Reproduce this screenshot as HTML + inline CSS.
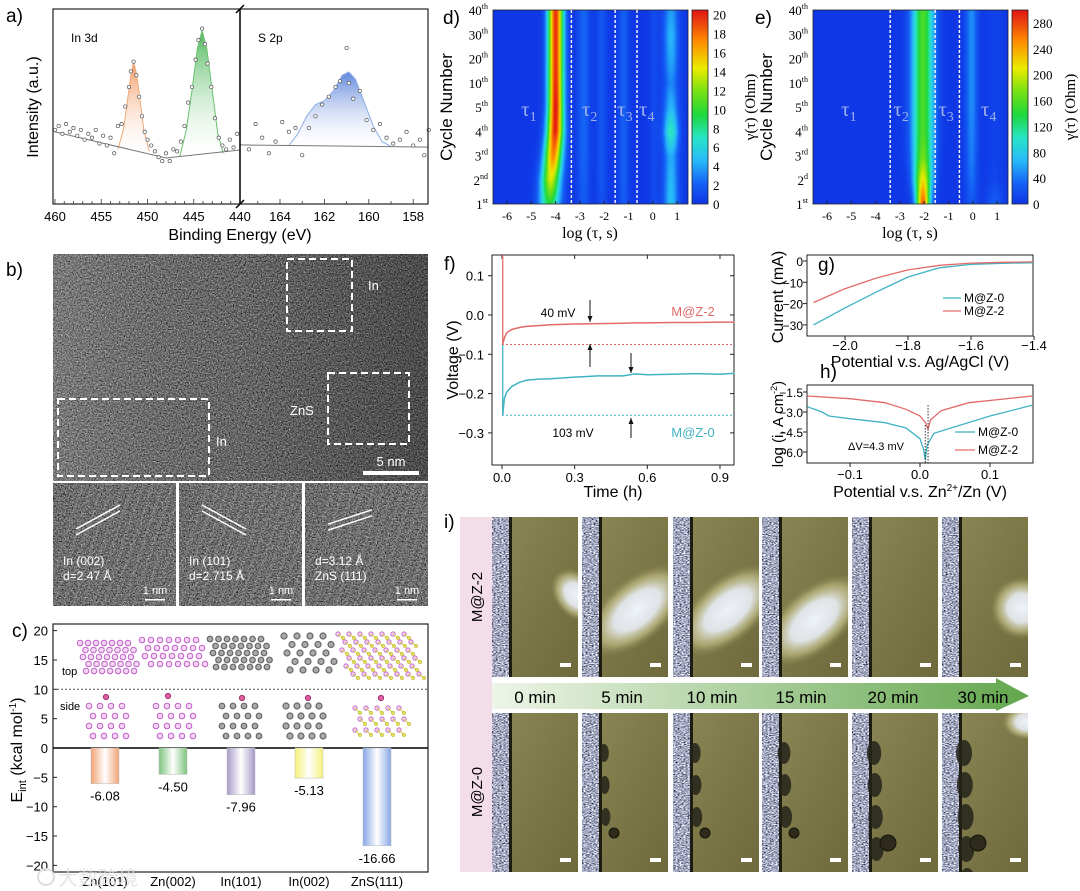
<!DOCTYPE html>
<html><head><meta charset="utf-8">
<style>
body{margin:0;background:#fff;width:1080px;height:891px;overflow:hidden;position:relative;font-family:"Liberation Sans","Noto Sans CJK SC",sans-serif}
canvas{position:absolute}
#fig{position:absolute;left:0;top:0}
</style></head>
<body>
<canvas id="heatD" width="195" height="194" style="left:493px;top:10px"></canvas>
<canvas id="heatE" width="195" height="194" style="left:813px;top:10px"></canvas>
<canvas id="cbarD" width="16" height="194" style="left:692px;top:10px"></canvas>
<canvas id="cbarE" width="16" height="194" style="left:1012px;top:10px"></canvas>
<svg id="fig" width="1080" height="891" xmlns="http://www.w3.org/2000/svg">
<defs>
<filter id="tem" x="0" y="0" width="100%" height="100%" color-interpolation-filters="sRGB">
<feTurbulence type="fractalNoise" baseFrequency="0.75" numOctaves="2" seed="4"/>
<feColorMatrix type="matrix" values="0.33 0.33 0.33 0 0 0.33 0.33 0.33 0 0 0.33 0.33 0.33 0 0 0 0 0 0 1"/>
<feComponentTransfer><feFuncR type="linear" slope="1.8" intercept="-0.47"/><feFuncG type="linear" slope="1.8" intercept="-0.47"/><feFuncB type="linear" slope="1.8" intercept="-0.47"/></feComponentTransfer>
</filter>
<filter id="zinc" x="0" y="0" width="100%" height="100%" color-interpolation-filters="sRGB">
<feTurbulence type="fractalNoise" baseFrequency="0.5 0.9" numOctaves="2" seed="7"/>
<feColorMatrix type="matrix" values="0.33 0.33 0.33 0 0 0.33 0.33 0.33 0 0 0.34 0.34 0.34 0 0 0 0 0 0 1"/>
<feComponentTransfer><feFuncR type="linear" slope="3" intercept="-0.85"/><feFuncG type="linear" slope="3" intercept="-0.83"/><feFuncB type="linear" slope="3" intercept="-0.78"/></feComponentTransfer>
</filter>
<linearGradient id="temShade" x1="0" y1="0" x2="1" y2="0"><stop offset="0" stop-color="#fff" stop-opacity="0.1"/><stop offset="0.5" stop-color="#000" stop-opacity="0.05"/><stop offset="1" stop-color="#000" stop-opacity="0.3"/></linearGradient>
<linearGradient id="gOr" x1="0" y1="0" x2="0" y2="1"><stop offset="0" stop-color="#f09a62"/><stop offset="1" stop-color="#fff" stop-opacity="0.2"/></linearGradient>
<linearGradient id="gGr" x1="0" y1="0" x2="0" y2="1"><stop offset="0" stop-color="#4fb85c"/><stop offset="1" stop-color="#fff" stop-opacity="0.2"/></linearGradient>
<linearGradient id="gBl" x1="0" y1="0" x2="0" y2="1"><stop offset="0" stop-color="#5f86dc"/><stop offset="1" stop-color="#fff" stop-opacity="0.2"/></linearGradient>
<linearGradient id="bar0" x1="0" x2="1"><stop offset="0" stop-color="#f2a374"/><stop offset="0.5" stop-color="#fff"/><stop offset="1" stop-color="#f2a374"/></linearGradient>
<linearGradient id="bar1" x1="0" x2="1"><stop offset="0" stop-color="#7cc47c"/><stop offset="0.5" stop-color="#fff"/><stop offset="1" stop-color="#7cc47c"/></linearGradient>
<linearGradient id="bar2" x1="0" x2="1"><stop offset="0" stop-color="#a79ac6"/><stop offset="0.5" stop-color="#fff"/><stop offset="1" stop-color="#a79ac6"/></linearGradient>
<linearGradient id="bar3" x1="0" x2="1"><stop offset="0" stop-color="#f4f07a"/><stop offset="0.5" stop-color="#fff"/><stop offset="1" stop-color="#f4f07a"/></linearGradient>
<linearGradient id="bar4" x1="0" x2="1"><stop offset="0" stop-color="#86a6e6"/><stop offset="0.5" stop-color="#fff"/><stop offset="1" stop-color="#86a6e6"/></linearGradient>
<linearGradient id="arrowG" x1="0" x2="1"><stop offset="0" stop-color="#eef5e8"/><stop offset="1" stop-color="#62a64c"/></linearGradient>
<linearGradient id="olive" x1="0" y1="0" x2="1" y2="1"><stop offset="0" stop-color="#8c8856"/><stop offset="0.6" stop-color="#7a7546"/><stop offset="1" stop-color="#6f6a3c"/></linearGradient>
<radialGradient id="glow"><stop offset="0" stop-color="#eef2fa"/><stop offset="0.45" stop-color="#dfe3e6"/><stop offset="0.75" stop-color="#c8c48a" stop-opacity="0.6"/><stop offset="1" stop-color="#8a8550" stop-opacity="0"/></radialGradient>
</defs>
</svg>
<script>
const NS='http://www.w3.org/2000/svg';
const svg=document.getElementById('fig');
function el(tag,attrs,parent){const e=document.createElementNS(NS,tag);for(const k in attrs)e.setAttribute(k,attrs[k]);(parent||svg).appendChild(e);return e;}
function tx(str,x,y,attrs,parent){const e=el('text',Object.assign({x:x,y:y},attrs||{}),parent);e.textContent=str;return e;}
function pts(arr){return arr.map(p=>p[0].toFixed(1)+','+p[1].toFixed(1)).join(' ');}

/* ================= Panel a data ================= */
const aOrangeBE=[453.2,452.6,452.2,451.8,451.5,451.2,450.8,450.4,449.8];
const aOrangeI=[28,38,52,66,72.8,67,53,38,27];
const aGreenBE=[446.5,445.8,445.2,444.6,444.1,443.6,443,442.4,441.8];
const aGreenI=[24.5,38,58,80,89,80,58,36,26];
const aBlueBE=[163.6,163.2,162.8,162.4,162.0,161.6,161.2,160.9,160.6,160.2,159.8,159.4,159];
const aBlueI=[30,36,45,51,53,58,66,67.7,64,52,40,32,29.5];
const aBaseLeftBE=[460,448,440];
const aBaseLeftI=[37,23.6,27.7];
const aBaseRightBE=[165.8,157.3];
const aBaseRightI=[30.3,29.2];
const aScatterLeftBE=[460,459.6,459.2,458.8,458.4,458,457.6,457.2,456.8,456.4,456,455.6,455.2,454.8,454.4,454,453.6,453.2,452.8,452.4,452,451.8,451.5,451.2,450.9,450.6,450.3,450,449.6,449.2,448.8,448.4,448,447.6,447.2,446.8,446.4,446,445.6,445.2,444.8,444.5,444.1,443.8,443.5,443.1,442.7,442.3,441.9,441.5,441.1,440.7,440.3];
const aScatterLeftI=[38,40,36,41,37,39,35,38,33,36,34,38,31,35,30,34,26,40,41,50,60,68,73,66,55,45,37,33,30,27,24,22,26,22,28,27,32,40,52,60,74,84,90,82,72,60,44,34,30,28,33,29,36];
const aScatterRightBE=[165.4,165.1,164.8,164.5,164.2,163.9,163.6,163.3,163,162.7,162.4,162.1,161.8,161.5,161.3,161.0,160.9,160.7,160.4,160.1,159.8,159.5,159.2,158.9,158.6,158.3,158,157.7,157.5,157.3];
const aScatterRightI=[28,41,34,26,32,42,37,39,25,39,45,51,55,60,63,80,62,54,58,43,38,41,34,31,33,37,30,33,25,38];
const aTicksLeft=[460,455,450,445,440];
const aTicksRight=[164,162,160,158];

const aX1=v=>55+(460-v)*9.25;
const aX2=v=>280+(164-v)*22.2;
const aY=I=>204-I*1.95;
function interp(xs,ys,x){for(let i=0;i<xs.length-1;i++){const a=xs[i],b=xs[i+1];if((x<=a&&x>=b)||(x>=a&&x<=b)){const t=(x-a)/(b-a);return ys[i]+t*(ys[i+1]-ys[i]);}}return ys[ys.length-1];}

(function(){
  const g=el('g',{});
  
  
  const lab=tx('a)',6,22,{'font-size':19});
  
  function peak(bes,is,xf,base,grad,name){
    const top=bes.map((b,i)=>[xf(b),aY(is[i])]);
    const bot=bes.slice().reverse().map(b=>[xf(b),aY(base(b))]);
    const p=el('polygon',{points:pts(top.concat(bot)),fill:'url(#'+grad+')',stroke:'none'},g);
    
    const l=el('polyline',{points:pts(top),fill:'none',stroke:grad==='gOr'?'#f0a878':grad==='gGr'?'#6cc070':'#90aee6','stroke-width':1},g);
    
  }
  const baseL=b=>interp(aBaseLeftBE,aBaseLeftI,b);
  const baseR=b=>interp(aBaseRightBE,aBaseRightI,b);
  peak(aOrangeBE,aOrangeI,aX1,baseL,'gOr','in3d-5-2-peak');
  peak(aGreenBE,aGreenI,aX1,baseL,'gGr','in3d-3-2-peak');
  peak(aBlueBE,aBlueI,aX2,baseR,'gBl','s2p-peak');
  const bl=el('polyline',{points:pts(aBaseLeftBE.map((b,i)=>[aX1(b),aY(aBaseLeftI[i])])),fill:'none',stroke:'#777','stroke-width':1},g);
  
  const br=el('polyline',{points:pts(aBaseRightBE.map((b,i)=>[aX2(b),aY(aBaseRightI[i])])),fill:'none',stroke:'#777','stroke-width':1},g);
  
  aScatterLeftBE.forEach((b,i)=>{
    const c=el('circle',{cx:aX1(b),cy:aY(aScatterLeftI[i]),r:1.7,fill:'#fff',stroke:'#555','stroke-width':0.7},g);
    
  });
  aScatterRightBE.forEach((b,i)=>{
    const c=el('circle',{cx:aX2(b),cy:aY(aScatterRightI[i]),r:1.7,fill:'#fff',stroke:'#555','stroke-width':0.7},g);
    
  });
  const fr=el('rect',{x:53,y:9,width:375,height:195,fill:'none',stroke:'#222','stroke-width':1.2},g);
  
  const br2=el('line',{x1:240,y1:9,x2:240,y2:204,stroke:'#000','stroke-width':1.5},g);
  
  el('line',{x1:236,y1:13,x2:244,y2:5,stroke:'#000','stroke-width':1.5},g);
  el('line',{x1:236,y1:208,x2:244,y2:200,stroke:'#000','stroke-width':1.5},g);
  for(let v=460;v>440;v--){el('line',{x1:aX1(v),y1:204,x2:aX1(v),y2:v%5===0?199:201,stroke:'#333','stroke-width':0.8},g);}
  for(let v=165;v>=158;v--){el('line',{x1:aX2(v),y1:204,x2:aX2(v),y2:v%2===0?199:201,stroke:'#333','stroke-width':0.8},g);}
  aTicksLeft.forEach(v=>{const t=tx(String(v),aX1(v),221,{'font-size':13,'text-anchor':'middle'},g);});
  aTicksRight.forEach(v=>{const t=tx(String(v),aX2(v),221,{'font-size':13,'text-anchor':'middle'},g);});
  const xt=tx('Binding Energy (eV)',240,240,{'font-size':16,'text-anchor':'middle'},g);
  
  const yt=tx('Intensity (a.u.)',0,0,{'font-size':16,'text-anchor':'middle',transform:'translate(38,107) rotate(-90)'},g);
  
  const t1=tx('In 3d',71,42,{'font-size':12},g);
  
  const t2=tx('S 2p',258,42,{'font-size':12},g);
  
})();

/* ================= Panel b (TEM) ================= */
(function(){
  const g=el('g',{});
  
  const lab=tx('b)',6,276,{'font-size':19});
  
  const im=el('rect',{x:53,y:254,width:375,height:227,filter:'url(#tem)'},g);
  
  el('rect',{x:53,y:254,width:375,height:227,fill:'url(#temShade)'},g);
  const boxes=[[287,259,65,72,'in-region-box-top'],[58,399,151,77,'in-region-box-left'],[328,373,81,71,'zns-region-box']];
  boxes.forEach(b=>{const r=el('rect',{x:b[0],y:b[1],width:b[2],height:b[3],fill:'none',stroke:'#fff','stroke-width':2,'stroke-dasharray':'7,4'},g);});
  tx('In',368,290,{'font-size':13,fill:'#fff'},g);
  tx('In',216,446,{'font-size':13,fill:'#fff'},g);
  tx('ZnS',290,415,{'font-size':13,fill:'#fff'},g);
  el('rect',{x:363,y:471,width:56,height:4,fill:'#fff'},g);
  tx('5 nm',391,466,{'font-size':13,fill:'#fff','text-anchor':'middle'},g);
  const tiles=[[53,'In (002)','d=2.47 Å',-1],[179,'In (101)','d=2.715 Å',1],[305,'d=3.12 Å','ZnS (111)',-0.6]];
  tiles.forEach((t,i)=>{
    const x=t[0];
    const r=el('rect',{x:x,y:483,width:123,height:123,filter:'url(#tem)'},g);
    
    for(let k=0;k<16;k++){el('line',{x1:x-10+k*10,y1:606,x2:x+30+k*10,y2:483,stroke:'#fff','stroke-opacity':0.08,'stroke-width':3},g);}
    const cx=x+45, cy=520, s=t[3];
    el('line',{x1:cx-22,y1:cy-12*s,x2:cx+22,y2:cy+12*s,stroke:'#fff','stroke-width':1.5,transform:'translate(0,-3)'},g);
    el('line',{x1:cx-22,y1:cy-12*s,x2:cx+22,y2:cy+12*s,stroke:'#fff','stroke-width':1.5,transform:'translate(0,3)'},g);
    tx(t[1],x+10,565,{'font-size':12,fill:'#fff'},g);
    tx(t[2],x+10,580,{'font-size':12,fill:'#fff'},g);
    el('rect',{x:x+92,y:599,width:20,height:1.5,fill:'#fff'},g);
    tx('1 nm',x+102,594,{'font-size':11,fill:'#fff','text-anchor':'middle'},g);
  });
  el('line',{x1:177,y1:483,x2:177,y2:606,stroke:'#fff','stroke-width':2},g);
  el('line',{x1:303,y1:483,x2:303,y2:606,stroke:'#fff','stroke-width':2},g);
  el('line',{x1:53,y1:482,x2:428,y2:482,stroke:'#fff','stroke-width':2},g);
})();

/* ================= Panel c ================= */
const cCategories=['Zn(101)','Zn(002)','In(101)','In(002)','ZnS(111)'];
const cValues=[-6.08,-4.50,-7.96,-5.13,-16.66];
const cValueLabels=['-6.08','-4.50','-7.96','-5.13','-16.66'];
const cTicks=[20,15,10,5,0,-5,-10,-15,-20];
const cX=i=>105+i*68;
const cY=v=>748-v*5.87;
(function(){
  const g=el('g',{});
  
  tx('c)',12,637,{'font-size':19});
  const fr=el('rect',{x:53,y:624,width:375,height:248,fill:'none',stroke:'#222','stroke-width':1.2},g);
  
  cTicks.forEach(v=>{
    el('line',{x1:53,y1:cY(v),x2:57,y2:cY(v),stroke:'#222'},g);
    const t=tx(String(v).replace('-','−'),48,cY(v)+5,{'font-size':13,'text-anchor':'end'},g);
    
  });
  const dl=el('line',{x1:53,y1:cY(10),x2:428,y2:cY(10),stroke:'#555','stroke-dasharray':'2,2'},g);
  
  const zl=el('line',{x1:53,y1:cY(0),x2:428,y2:cY(0),stroke:'#000','stroke-width':1.6},g);
  
  tx('top',62,675,{'font-size':11},g);
  tx('side',60,710,{'font-size':11},g);
  cValues.forEach((v,i)=>{
    const b=el('rect',{x:cX(i)-14,y:cY(0),width:28,height:cY(v)-cY(0),fill:'url(#bar'+i+')',stroke:'#bbb','stroke-width':0.5},g);
    
    const t=tx(cValueLabels[i],cX(i),cY(v)+17,{'font-size':13,'text-anchor':'middle'},g);
    
    const c=tx(cCategories[i],cX(i),886,{'font-size':13,'text-anchor':'middle'},g);
    
  });
  const yt=tx('',0,0,{'font-size':16,'text-anchor':'middle',transform:'translate(22,750) rotate(-90)'},g);
  
  yt.innerHTML='E<tspan font-size="11" dy="4">int</tspan><tspan dy="-4"> (kcal mol</tspan><tspan font-size="10" dy="-6">-1</tspan><tspan dy="6">)</tspan>';
  const pink={fill:'#f3d6f3',stroke:'#c060c8','stroke-width':1};
  const gray={fill:'#aaa',stroke:'#666','stroke-width':1.2};
  function lattice(x0,y0,cols,rows,dx,dy,shift,style,r){
    for(let j=0;j<rows;j++)for(let i=0;i<cols;i++){el('circle',Object.assign({cx:x0+i*dx+(j%2)*shift+j*1.5,cy:y0+j*dy,r:r||2.8},style),g);}
  }
  lattice(80,643,7,5,8,7,4,pink);
  lattice(142,640,7,4,9,8,4.5,pink);
  lattice(210,639,7,5,8.5,7,4,gray);
  lattice(284,636,4,5,13,8.5,6.5,gray,3);
  for(let j=0;j<6;j++)for(let i=0;i<7;i++){
    const x=338+i*11+(j%2)*5+j*2,y=634+j*8;
    el('circle',{cx:x,cy:y,r:2.2,fill:'#f0d0f0',stroke:'#c060c8','stroke-width':0.8},g);
    el('line',{x1:x,y1:y,x2:x+5,y2:y+4,stroke:'#d4d040','stroke-width':1},g);
    el('circle',{cx:x+5,cy:y+4,r:1.6,fill:'#e8e060',stroke:'#b8b020','stroke-width':0.6},g);
  }
  function side(x0,style,r){
    for(let j=0;j<4;j++)for(let i=0;i<4;i++){el('circle',Object.assign({cx:x0+i*11+(j%2)*4,cy:706+j*10,r:r||2.8},style),g);}
  }
  side(89,pink);side(156,pink);side(222,gray);side(286,gray,3);
  [[106,697],[168,696],[242,698],[308,698],[381,698]].forEach(p=>el('circle',{cx:p[0],cy:p[1],r:2.6,fill:'#e060a0',stroke:'#a03070'},g));
  for(let j=0;j<3;j++)for(let i=0;i<5;i++){
    const x=355+i*11+(j%2)*5,y=708+j*11;
    el('circle',{cx:x,cy:y,r:2.2,fill:'#f0d0f0',stroke:'#c060c8','stroke-width':0.8},g);
    el('line',{x1:x,y1:y,x2:x+5,y2:y+5,stroke:'#d4d040','stroke-width':1},g);
    el('circle',{cx:x+5,cy:y+5,r:1.6,fill:'#e8e060',stroke:'#b8b020','stroke-width':0.6},g);
  }
  const wm=tx('大数跨境',58,885,{'font-size':20,fill:'#ddd','fill-opacity':0.8},g);
  
  el('circle',{cx:46,cy:877,r:8,fill:'none',stroke:'#ddd','stroke-width':2},g);
})();

/* ================= Panels d & e (DRT heatmaps) ================= */
const cycleLabels=['1st','2nd','3rd','4th','5th','10th','20th','30th','40th'];
const cycleSups=['st','nd','rd','th','th','th','th','th','th'];
const cycleNums=['1','2','3','4','5','10','20','30','40'];
const logTauTicks=[-6,-5,-4,-3,-2,-1,0,1];
const dColorTicks=[0,2,4,6,8,10,12,14,16,18,20];
const eColorTicks=[0,40,80,120,160,200,240,280];
const dT1Center=[-4.25,-4.2,-4.1,-4.02,-4.0,-4.0,-4.0,-4.0,-4.0];
const dT1Width=[0.3,0.28,0.26,0.24,0.22,0.22,0.22,0.22,0.22];
const dT1Amp=[0.45,0.68,0.85,0.98,1.0,0.97,0.96,0.96,0.96];
const dT2Amp=[0.08,0.1,0.11,0.11,0.11,0.11,0.11,0.11,0.11];
const dT2bAmp=[0.06,0.08,0.08,0.08,0.08,0.08,0.08,0.08,0.08];
const dT3Amp=[0.09,0.1,0.1,0.1,0.1,0.1,0.1,0.1,0.1];
const dT4Amp=[0.24,0.22,0.2,0.36,0.22,0.15,0.2,0.22,0.18];
const dDividers=[-3.35,-1.55,-0.65];
const eMainAmp=[0.92,0.72,0.56,0.52,0.52,0.52,0.52,0.52,0.52];
const eMainWidth=[0.2,0.26,0.3,0.32,0.32,0.32,0.32,0.32,0.32];
const eT4Amp=[0.08,0.12,0.14,0.15,0.16,0.16,0.16,0.16,0.16];
const eT5Amp=[0.1,0.04,0.03,0.03,0.03,0.03,0.03,0.03,0.03];
const eDividers=[-3.4,-1.55,-0.55];

const hxD=v=>507+(v+6)*24.3;
const hRowY=i=>204-i*24.25;
const xMin=-6.58,xMax=1.45;
function gauss(x,c,w){return Math.exp(-0.5*((x-c)/w)*((x-c)/w));}
function dVal(i,x){return dT1Amp[i]*gauss(x,dT1Center[i],dT1Width[i])+dT2Amp[i]*gauss(x,-2.85,0.18)+dT2bAmp[i]*gauss(x,-2.1,0.15)+dT3Amp[i]*gauss(x,-1.2,0.15)+dT4Amp[i]*gauss(x,0.75,0.22)+0.05*gauss(x,0.05,0.15);}
function eVal(i,x){return eMainAmp[i]*gauss(x,-2.05,eMainWidth[i])+eT4Amp[i]*gauss(x,-0.05,0.18)+eT5Amp[i]*gauss(x,0.9,0.25);}
const cmapStops=[[0,15,55,230],[0.1,20,95,245],[0.22,40,185,250],[0.34,40,230,200],[0.46,30,215,60],[0.58,120,225,20],[0.7,235,235,0],[0.84,255,140,0],[1,225,20,20]];
function cmap(v){v=Math.max(0,Math.min(1,v));for(let k=0;k<cmapStops.length-1;k++){const a=cmapStops[k],b=cmapStops[k+1];if(v<=b[0]){const t=(v-a[0])/(b[0]-a[0]);return [a[1]+t*(b[1]-a[1]),a[2]+t*(b[2]-a[2]),a[3]+t*(b[3]-a[3])];}}return [225,20,20];}
function drawHeat(id,fn){
  const cv=document.getElementById(id),ctx=cv.getContext('2d');const W=cv.width,H=cv.height;const img=ctx.createImageData(W,H);
  const rows=[];for(let i=0;i<9;i++){const r=[];for(let px=0;px<W;px++){r.push(fn(i,xMin+(px+0.5)/W*(xMax-xMin)));}rows.push(r);}
  for(let py=0;py<H;py++){let rr=(204-(10+py))/24.25;rr=Math.max(0,Math.min(8,rr));const i0=Math.floor(rr),i1=Math.min(8,i0+1),t=rr-i0;
    for(let px=0;px<W;px++){const v=rows[i0][px]*(1-t)+rows[i1][px]*t;const c=cmap(v);const o=(py*W+px)*4;img.data[o]=c[0];img.data[o+1]=c[1];img.data[o+2]=c[2];img.data[o+3]=255;}}
  ctx.putImageData(img,0,0);
}
drawHeat('heatD',dVal);
drawHeat('heatE',eVal);
['cbarD','cbarE'].forEach(id=>{const cv=document.getElementById(id),ctx=cv.getContext('2d');for(let py=0;py<cv.height;py++){const c=cmap(1-py/(cv.height-1));ctx.fillStyle='rgb('+c.map(Math.round).join(',')+')';ctx.fillRect(0,py,cv.width,1);}});

function heatPanel(off,letter,dividers,cticks,cmax,tauX){
  const g=el('g',{});
  
  const hx=v=>hxD(v)+off;
  tx(letter+')',443+off-(letter==='e'?8:0),24,{'font-size':19},g);
  el('rect',{x:493+off,y:10,width:195,height:194,fill:'none',stroke:'#222','stroke-width':0.8},g);
  dividers.forEach(v=>{const l=el('line',{x1:hx(v),y1:10,x2:hx(v),y2:204,stroke:'#fff','stroke-width':1.4,'stroke-dasharray':'3,2'},g);});
  tauX.forEach((xv,i)=>{const t=tx('',hx(xv),116,{'font-size':21,fill:'#9fb0e8','font-family':'"Liberation Serif",serif','text-anchor':'middle'},g);t.innerHTML='τ<tspan font-size="14" dy="5">'+(i+1)+'</tspan>';});
  logTauTicks.forEach(v=>{const t=tx(String(v),hx(v),220,{'font-size':12,'text-anchor':'middle','font-family':'"Liberation Serif",serif'},g);el('line',{x1:hx(v),y1:204,x2:hx(v),y2:201,stroke:'#222'},g);});
  const xt=tx('log (τ, s)',590+off,238,{'font-size':16,'text-anchor':'middle','font-family':'"Liberation Serif",serif'},g);
  
  cycleNums.forEach((n,i)=>{const t=tx('',488+off,hRowY(i)+5,{'font-size':13,'text-anchor':'end','font-family':'"Liberation Serif",serif'},g);t.innerHTML=n+'<tspan font-size="8" dy="-6">'+(letter==='e'&&i===1?'d':cycleSups[i])+'</tspan>';});
  const yt=tx('Cycle Number',0,0,{'font-size':17,'text-anchor':'middle',transform:'translate('+(452+off)+',107) rotate(-90)'},g);
  
  el('rect',{x:692+off,y:10,width:16,height:194,fill:'none',stroke:'#222','stroke-width':0.8},g);
  cticks.forEach(v=>{const y=204-v/cmax*194;const t=tx(String(v),713+off,y+5,{'font-size':13,'font-family':'"Liberation Serif",serif'},g);});
  const ct=tx('γ(τ) (Ohm)',0,0,{'font-size':15,'text-anchor':'middle','font-family':'"Liberation Serif",serif',transform:'translate('+(755+off)+',107) rotate(-90)'},g);
  
}
heatPanel(0,'d',dDividers,dColorTicks,20.5,[-5.1,-2.6,-1.15,-0.25]);
heatPanel(320,'e',eDividers,eColorTicks,300,[-5.1,-2.95,-1.1,0.65]);

/* ================= Panel f ================= */
const fTime=[0.003,0.01,0.02,0.04,0.07,0.1,0.15,0.2,0.3,0.4,0.5,0.55,0.6,0.7,0.8,0.9,0.96];
const fRed=[-0.075,-0.058,-0.045,-0.037,-0.032,-0.029,-0.027,-0.025,-0.023,-0.022,-0.021,-0.02,-0.02,-0.019,-0.019,-0.018,-0.018];
const fBlue=[-0.255,-0.212,-0.196,-0.182,-0.172,-0.166,-0.163,-0.162,-0.158,-0.155,-0.155,-0.15,-0.152,-0.151,-0.149,-0.151,-0.148];
const fXTicks=[0,0.3,0.6,0.9];
const fYTicks=[0.1,0,-0.1,-0.2,-0.3];
const fX=t=>502+t*242.2;
const fY=v=>315-v*393;
(function(){
  const g=el('g',{});
  
  tx('f)',444,270,{'font-size':19},g);
  el('rect',{x:492,y:255,width:242,height:210,fill:'none',stroke:'#222','stroke-width':1},g);
  fYTicks.forEach(v=>{el('line',{x1:488,y1:fY(v),x2:492,y2:fY(v),stroke:'#222'},g);el('line',{x1:734,y1:fY(v),x2:730,y2:fY(v),stroke:'#222'},g);const t=tx(v.toFixed(1).replace('-','−'),484,fY(v)+5,{'font-size':13,'text-anchor':'end'},g);});
  fXTicks.forEach(v=>{el('line',{x1:fX(v),y1:465,x2:fX(v),y2:469,stroke:'#222'},g);el('line',{x1:fX(v),y1:255,x2:fX(v),y2:259,stroke:'#222'},g);const t=tx(v.toFixed(1),fX(v),482,{'font-size':13,'text-anchor':'middle'},g);});
  el('line',{x1:fX(fTime[0]),y1:255,x2:fX(fTime[0]),y2:fY(fRed[0]),stroke:'#e36a6a','stroke-width':1.3},g);
  el('line',{x1:fX(fTime[0]),y1:fY(fRed[0]),x2:fX(fTime[0]),y2:fY(fBlue[0]),stroke:'#3fb2c2','stroke-width':1.3},g);
  const r=el('polyline',{points:pts(fTime.map((t,i)=>[fX(t),fY(fRed[i])])),fill:'none',stroke:'#e36a6a','stroke-width':1.5},g);
  
  const b=el('polyline',{points:pts(fTime.map((t,i)=>[fX(t),fY(fBlue[i])])),fill:'none',stroke:'#3fb2c2','stroke-width':1.5},g);
  
  el('line',{x1:fX(0),y1:fY(fRed[0]),x2:734,y2:fY(fRed[0]),stroke:'#e36a6a','stroke-dasharray':'2,2'},g);
  el('line',{x1:fX(0),y1:fY(fBlue[0]),x2:734,y2:fY(fBlue[0]),stroke:'#3fb2c2','stroke-dasharray':'2,2'},g);
  function arrow(x,y1,y2){el('line',{x1:x,y1:y1,x2:x,y2:y2,stroke:'#111','stroke-width':1},g);const d=y2>y1?-1:1;el('polygon',{points:(x-2.5)+','+(y2+d*6)+' '+(x+2.5)+','+(y2+d*6)+' '+x+','+y2,fill:'#111'},g);}
  arrow(590,300,322);arrow(590,367,344);arrow(631,353,373);arrow(631,438,418);
  tx('40 mV',558,317,{'font-size':12,'text-anchor':'middle'},g);
  tx('103 mV',573,437,{'font-size':12,'text-anchor':'middle'},g);
  tx('M@Z-2',693,316,{'font-size':13,fill:'#e36a6a','text-anchor':'middle'},g);
  tx('M@Z-0',693,437,{'font-size':13,fill:'#3fb2c2','text-anchor':'middle'},g);
  tx('Time (h)',613,497,{'font-size':16,'text-anchor':'middle'},g);
  tx('Voltage (V)',0,0,{'font-size':16,'text-anchor':'middle',transform:'translate(458,360) rotate(-90)'},g);
})();

/* ================= Panel g ================= */
const gPot=[-2.1,-2.0,-1.9,-1.8,-1.7,-1.6,-1.5,-1.4];
const gBlue=[-30,-22,-14.5,-7.5,-3.2,-1.6,-1.1,-0.8];
const gRed=[-19.5,-13,-8,-4.2,-2,-1,-0.6,-0.4];
const gXTicks=[-2.0,-1.8,-1.6,-1.4];
const gYTicks=[0,-10,-20,-30];
const gX=v=>845+(v+2)*315;
const gY=v=>261-v*2.13;
(function(){
  const g=el('g',{});
  
  el('rect',{x:807,y:255,width:226,height:81,fill:'none',stroke:'#222','stroke-width':1},g);
  gYTicks.forEach(v=>{el('line',{x1:803,y1:gY(v),x2:807,y2:gY(v),stroke:'#222'},g);const t=tx(String(v).replace('-','−'),803,gY(v)+5,{'font-size':12,'text-anchor':'end'},g);});
  gXTicks.forEach(v=>{el('line',{x1:gX(v),y1:336,x2:gX(v),y2:340,stroke:'#222'},g);const t=tx(v.toFixed(1).replace('-','−'),gX(v),350,{'font-size':13,'text-anchor':'middle'},g);});
  el('polyline',{points:pts(gPot.map((p,i)=>[gX(p),gY(gBlue[i])])),fill:'none',stroke:'#3fb2c2','stroke-width':1.3},g);
  el('polyline',{points:pts(gPot.map((p,i)=>[gX(p),gY(gRed[i])])),fill:'none',stroke:'#e36a6a','stroke-width':1.3},g);
  tx('g)',818,271,{'font-size':19},g);
  el('line',{x1:943,y1:298,x2:961,y2:298,stroke:'#3fb2c2','stroke-width':1.3},g);
  tx('M@Z-0',964,302,{'font-size':12},g);
  el('line',{x1:943,y1:311,x2:961,y2:311,stroke:'#e36a6a','stroke-width':1.3},g);
  tx('M@Z-2',964,315,{'font-size':12},g);
  tx('Potential v.s. Ag/AgCl (V)',920,367,{'font-size':16,'text-anchor':'middle'},g);
  tx('Current (mA)',0,0,{'font-size':16,'text-anchor':'middle',transform:'translate(783,297) rotate(-90)'},g);
})();

/* ================= Panel h ================= */
const hPotBlue=[-0.161,-0.14,-0.13,-0.1,-0.05,-0.02,0,0.005,0.0075,0.01,0.02,0.05,0.1,0.16];
const hBlue=[-2.6,-3.0,-3.3,-3.5,-3.8,-4.2,-5.0,-5.8,-6.6,-5.5,-4.6,-4.1,-3.3,-2.5];
const hPotRed=[-0.161,-0.1,-0.05,-0.02,0,0.008,0.0115,0.015,0.03,0.07,0.16];
const hRed=[-1.8,-2.0,-2.3,-2.8,-3.3,-3.8,-4.3,-3.6,-2.9,-2.3,-1.8];
const hXTicks=[-0.1,0,0.1];
const hYTicks=[-1.5,-3.0,-4.5,-6.0];
const hX=v=>920+v*700;
const hY=v=>392+(-1.5-v)*13.33;
(function(){
  const g=el('g',{});
  
  tx('h)',820,378,{'font-size':19},g);
  el('rect',{x:807,y:385,width:226,height:78,fill:'none',stroke:'#222','stroke-width':1},g);
  hYTicks.forEach(v=>{el('line',{x1:803,y1:hY(v),x2:807,y2:hY(v),stroke:'#222'},g);const t=tx(v.toFixed(1).replace('-','−'),803,hY(v)+5,{'font-size':12,'text-anchor':'end'},g);});
  hXTicks.forEach(v=>{el('line',{x1:hX(v),y1:463,x2:hX(v),y2:467,stroke:'#222'},g);const t=tx(v.toFixed(1).replace('-','−'),hX(v),479,{'font-size':13,'text-anchor':'middle'},g);});
  el('polyline',{points:pts(hPotBlue.map((p,i)=>[hX(p),hY(hBlue[i])])),fill:'none',stroke:'#3fb2c2','stroke-width':1.3},g);
  el('polyline',{points:pts(hPotRed.map((p,i)=>[hX(p),hY(hRed[i])])),fill:'none',stroke:'#e36a6a','stroke-width':1.3},g);
  el('line',{x1:hX(0.0075),y1:425,x2:hX(0.0075),y2:463,stroke:'#333','stroke-dasharray':'1.5,1.5'},g);
  el('line',{x1:hX(0.0115),y1:405,x2:hX(0.0115),y2:463,stroke:'#333','stroke-dasharray':'1.5,1.5'},g);
  tx('ΔV=4.3 mV',876,450,{'font-size':11,'text-anchor':'middle'},g);
  el('line',{x1:955,y1:432,x2:975,y2:432,stroke:'#3fb2c2','stroke-width':1.3},g);
  tx('M@Z-0',978,436,{'font-size':12},g);
  el('line',{x1:955,y1:450,x2:975,y2:450,stroke:'#e36a6a','stroke-width':1.3},g);
  tx('M@Z-2',978,454,{'font-size':12},g);
  const xt=tx('',920,497,{'font-size':16,'text-anchor':'middle'},g);
  xt.innerHTML='Potential v.s. Zn<tspan font-size="10" dy="-6">2+</tspan><tspan dy="6">/Zn (V)</tspan>';
  
  const yt=tx('',0,0,{'font-size':15,'text-anchor':'middle',transform:'translate(783,424) rotate(-90)'},g);
  yt.innerHTML='log (i, A cm<tspan font-size="9" dy="-6">-2</tspan><tspan dy="6">)</tspan>';
  
})();

/* ================= Panel i (photos) ================= */
const iTimeLabels=['0 min','5 min','10 min','15 min','20 min','30 min'];
(function(){
  const g=el('g',{});
  
  tx('i)',444,528,{'font-size':19},g);
  el('rect',{x:460,y:517,width:32,height:355,fill:'#f3dde8'},g);
  tx('M@Z-2',0,0,{'font-size':15,'text-anchor':'middle',transform:'translate(482,597) rotate(-90)'},g);
  tx('M@Z-0',0,0,{'font-size':15,'text-anchor':'middle',transform:'translate(482,792) rotate(-90)'},g);
  const cols=[492,582,673,762,852,942];
  const glowTop=[[84,595,22,30],[55,610,62,32],[55,610,62,32],[52,620,62,32],null,[80,608,32,32]];
  const blobs=[0,3,3,3,4,5];
  cols.forEach((x,i)=>{
    [[517,160,'top'],[713,159,'bottom']].forEach(rw=>{
      const y=rw[0],h=rw[1];
      const cp=el('clipPath',{id:'cp'+i+rw[2]},g);
      el('rect',{x:x,y:y,width:86,height:h},cp);
      const tg=el('g',{'clip-path':'url(#cp'+i+rw[2]+')'},g);
      
      el('rect',{x:x,y:y,width:86,height:h,fill:'url(#olive)'},tg);
      if(rw[2]==='top'&&glowTop[i]){const gl=glowTop[i];el('ellipse',{cx:x+gl[0],cy:gl[1],rx:gl[2],ry:gl[3],fill:'url(#glow)',transform:'rotate(-40 '+(x+gl[0])+' '+gl[1]+')'},tg);}
      if(rw[2]==='bottom'&&i===5){el('ellipse',{cx:x+85,cy:722,rx:25,ry:18,fill:'url(#glow)'},tg);}
      el('rect',{x:x,y:y,width:18,height:h,filter:'url(#zinc)'},tg);
      el('rect',{x:x+17,y:y,width:3,height:h,fill:'#1e1c10'},tg);
      if(rw[2]==='bottom'){
        for(let k=0;k<blobs[i];k++){el('ellipse',{cx:x+22+k*0.8,cy:y+40+k*32,rx:4+i*0.8,ry:8+i,fill:'#25231a','fill-opacity':0.85},tg);}
        if(i>=1){el('circle',{cx:x+32+(i>3?4:0),cy:y+120+(i>3?10:0),r:5+(i>3?3:0),fill:'#2e2b1c',stroke:'#151408'},tg);}
      }
      el('rect',{x:x+68,y:y+h-14,width:11,height:4,fill:'#fff'},tg);
    });
  });
  const ar=el('polygon',{points:'492,683 996,683 996,678 1029,696 996,711 996,709 492,709',fill:'url(#arrowG)'},g);
  
  iTimeLabels.forEach((t,i)=>{const e=tx(t,[535,622,712,801,893,983][i],703,{'font-size':17,'text-anchor':'middle'},g);});
})();
</script>
</body></html>
